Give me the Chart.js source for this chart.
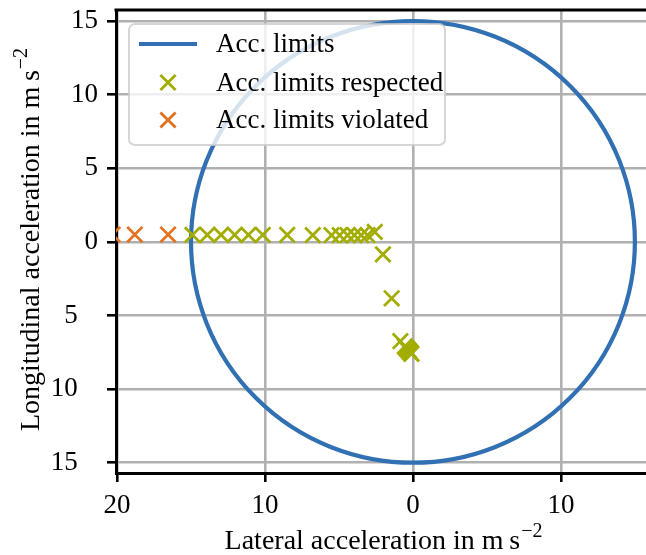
<!DOCTYPE html>
<html><head><meta charset="utf-8">
<script src="https://cdn.jsdelivr.net/npm/chart.js@4/dist/chart.umd.min.js"></script>
<style>html,body{margin:0;padding:0;background:#fff}#wrap{width:646px;height:555px;position:relative}</style>
</head><body><div id="wrap"><canvas id="c" width="646" height="555"></canvas></div>
<script>
// ---------- data ----------
const legendLabels = ['Acc. limits', 'Acc. limits respected', 'Acc. limits violated'];
const accLimit = [15];
const respectedX = [14.9, 13.9, 12.97, 12.05, 11.12, 10.15, 8.5, 6.77, 5.5, 4.95, 4.42, 3.96, 3.5, 3.07, 2.58, 2.03, 1.44, 0.85, 0.55, 0.47, 0.4, 0.33, 0.27, 0.21, 0.15, 0.1];
const respectedY = [0.47, 0.47, 0.47, 0.47, 0.47, 0.47, 0.47, 0.46, 0.45, 0.45, 0.45, 0.45, 0.45, 0.45, 0.68, -0.85, -3.83, -6.75, -7.1, -7.18, -7.26, -7.34, -7.41, -7.48, -7.55, -7.6];
const violatedX = [20.3, 18.8, 16.55];
const violatedY = [0.5, 0.5, 0.5];
const xTicks = [20, 10, 0, -10];
const yTicks = [15, 10, 5, 0, -5, -10, -15];
const xTitle = ['Lateral acceleration in m\u2009s', '\u22122'];
const yTitle = ['Longitudinal acceleration in m\u2009s', '\u22122'];

// ---------- style ----------
const BLUE = '#3070b3', GREEN = '#a2ad00', ORANGE = '#e37222';
const FONT = '"Liberation Serif", "Times New Roman", serif';
const FS = 27, TS = 28;

const toPts = (xs, ys) => xs.map((x, i) => ({x: x, y: ys[i]}));

const circlePlugin = {
  id: 'circle',
  beforeDatasetsDraw(chart) {
    const {ctx, chartArea: a, scales: {x, y}} = chart;
    const r = accLimit[0];
    const cx = x.getPixelForValue(0), cy = y.getPixelForValue(0);
    const rx = Math.abs(x.getPixelForValue(r) - cx), ry = Math.abs(y.getPixelForValue(r) - cy);
    ctx.save();
    ctx.beginPath(); ctx.rect(a.left, a.top, a.right - a.left, a.bottom - a.top); ctx.clip();
    ctx.beginPath();
    ctx.ellipse(cx, cy, rx, ry, 0, 0, Math.PI * 2);
    ctx.strokeStyle = chart.data.datasets[0].borderColor;
    ctx.lineWidth = 4.2;
    ctx.stroke();
    ctx.restore();
  }
};

function drawSup(ctx, parts, size) {
  ctx.font = size + 'px ' + FONT;
  const w1 = ctx.measureText(parts[0]).width;
  ctx.font = Math.round(size * 0.7) + 'px ' + FONT;
  const w2 = ctx.measureText(parts[1]).width;
  const x0 = -(w1 + w2) / 2;
  ctx.font = size + 'px ' + FONT;
  ctx.fillText(parts[0], x0, 0);
  ctx.font = Math.round(size * 0.7) + 'px ' + FONT;
  ctx.fillText(parts[1], x0 + w1 + 1, -size * 0.42);
}

const decoPlugin = {
  id: 'deco',
  afterDraw(chart) {
    const {ctx, chartArea: a} = chart;
    ctx.save();
    // top spine
    ctx.strokeStyle = '#000'; ctx.lineWidth = 3;
    ctx.beginPath(); ctx.moveTo(a.left - 1.5, a.top); ctx.lineTo(a.right, a.top); ctx.stroke();
    // axis titles
    ctx.fillStyle = '#000'; ctx.textBaseline = 'alphabetic'; ctx.textAlign = 'left';
    ctx.save(); ctx.translate(383, 549); drawSup(ctx, xTitle, TS); ctx.restore();
    ctx.save(); ctx.translate(39, 240); ctx.rotate(-Math.PI / 2); drawSup(ctx, yTitle, TS); ctx.restore();
    // legend
    const lx = 129, ly = 24, lw = 316, lh = 121, rr = 6;
    ctx.beginPath();
    ctx.roundRect(lx, ly, lw, lh, rr);
    ctx.fillStyle = 'rgba(255,255,255,0.8)'; ctx.fill();
    ctx.strokeStyle = 'rgba(204,204,204,0.8)'; ctx.lineWidth = 2; ctx.stroke();
    const ds = chart.data.datasets;
    const rows = [44, 82.5, 120];
    ctx.lineCap = 'butt';
    ctx.strokeStyle = ds[0].borderColor; ctx.lineWidth = 4.2;
    ctx.beginPath(); ctx.moveTo(139, rows[0]); ctx.lineTo(197, rows[0]); ctx.stroke();
    for (let i = 1; i < 3; i++) {
      ctx.strokeStyle = ds[i].borderColor; ctx.lineWidth = 2.8;
      const d = 7.6, cx = 168, cy = rows[i];
      ctx.beginPath();
      ctx.moveTo(cx - d, cy - d); ctx.lineTo(cx + d, cy + d);
      ctx.moveTo(cx + d, cy - d); ctx.lineTo(cx - d, cy + d);
      ctx.stroke();
    }
    ctx.fillStyle = '#000'; ctx.font = FS + 'px ' + FONT; ctx.textBaseline = 'middle';
    for (let i = 0; i < 3; i++) ctx.fillText(ds[i].label, 216, rows[i] + 1);
    ctx.restore();
  }
};

const commonGrid = {color: '#b0b0b0', lineWidth: 2.6, tickColor: '#000', tickLength: 9, tickWidth: 2.6};
const tickFont = {family: FONT, size: FS};
const zeroPad = s => { s.paddingLeft = 0; s.paddingRight = 0; s.paddingTop = 0; s.paddingBottom = 0; };

new Chart(document.getElementById('c'), {
  type: 'scatter',
  data: {
    datasets: [
      {label: legendLabels[0], data: [], showLine: true, borderColor: BLUE, backgroundColor: BLUE, borderWidth: 4, pointRadius: 0},
      {label: legendLabels[1], data: toPts(respectedX, respectedY), pointStyle: 'crossRot', pointRadius: 10.8,
       pointBorderWidth: 2.8, borderColor: GREEN, backgroundColor: GREEN, clip: 0},
      {label: legendLabels[2], data: toPts(violatedX, violatedY), pointStyle: 'crossRot', pointRadius: 10.8,
       pointBorderWidth: 2.8, borderColor: ORANGE, backgroundColor: ORANGE, clip: 0}
    ]
  },
  options: {
    responsive: false, devicePixelRatio: 1, animation: false,
    layout: {autoPadding: false, padding: {top: 10, right: 0, left: 0, bottom: 0}},
    plugins: {legend: {display: false}, tooltip: {enabled: false}},
    scales: {
      x: {
        type: 'linear', reverse: true, min: -15.75, max: 20.07,
        afterBuildTicks: s => { s.ticks = xTicks.map(v => ({value: v})); },
        afterFit: s => { s.height = 82; zeroPad(s); },
        ticks: {callback: v => String(Math.abs(v)), font: tickFont, color: '#000', padding: 8, maxRotation: 0, autoSkip: false},
        grid: commonGrid,
        border: {display: true, color: '#000', width: 3}
      },
      y: {
        type: 'linear', min: -15.7, max: 15.75,
        afterBuildTicks: s => { s.ticks = yTicks.map(v => ({value: v})); },
        afterFit: s => { s.width = 116; zeroPad(s); },
        ticks: {callback: v => String(Math.abs(v)) + (v < 0 ? '\u00A0\u00A0\u00A0' : ''), font: tickFont, color: '#000', padding: 9, autoSkip: false},
        grid: commonGrid,
        border: {display: true, color: '#000', width: 3}
      }
    }
  },
  plugins: [circlePlugin, decoPlugin]
});
</script></body></html>
